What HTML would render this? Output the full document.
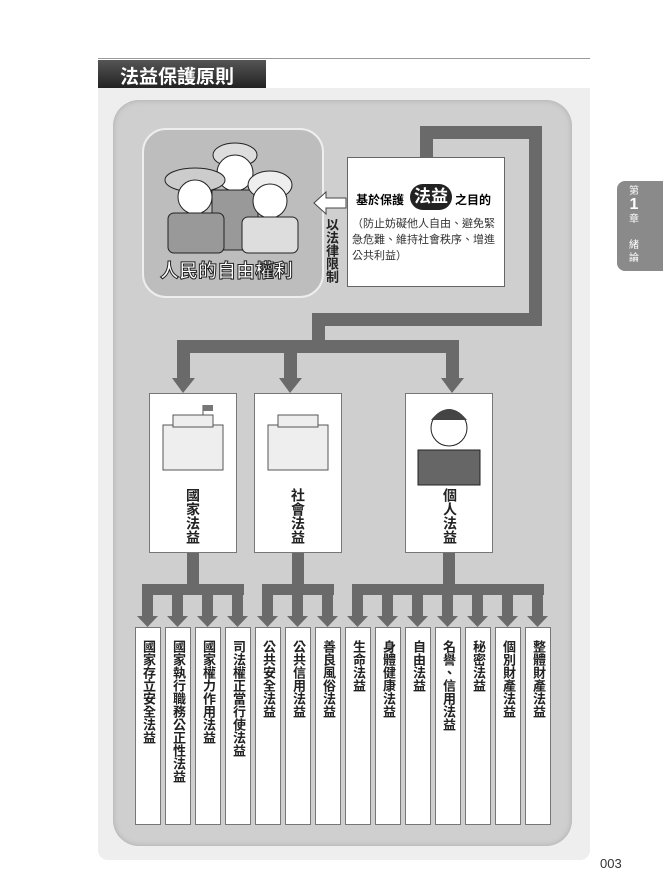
<!DOCTYPE html><html><head><meta charset="utf-8"><style>
body{margin:0;width:663px;height:896px;background:#fff;position:relative;overflow:hidden;font-family:"Liberation Sans","Noto Sans CJK TC",sans-serif}
.a{position:absolute}
.box{position:absolute;background:#fff;border:1px solid #777;box-sizing:border-box}
.leaf{position:absolute;top:627px;width:26px;height:198px;background:#fff;border:1px solid #777;box-sizing:border-box;writing-mode:vertical-rl;font-size:13px;font-weight:bold;color:#222;padding-top:12px;line-height:24px;text-align:left;letter-spacing:0}
.g{position:absolute;background:#6a6a6a}
.vt{writing-mode:vertical-rl;font-size:14px;font-weight:bold;color:#222}
</style></head><body>
<div class="a" style="left:98px;top:58px;width:492px;height:1px;background:#999"></div>
<div class="a" style="left:98px;top:88px;width:492px;height:772px;background:#eeeeee;border-radius:0 0 10px 10px"></div>
<div class="a" style="left:98px;top:60px;width:168px;height:28px;background:linear-gradient(#555,#222)"></div>
<div class="a" style="left:120px;top:62px;color:#fff;font-size:19px;font-weight:bold">法益保護原則</div>
<div class="a" style="left:113px;top:100px;width:459px;height:746px;background:#cfcfcf;border-radius:26px;box-shadow:inset 0 0 6px #aaa"></div>
<div class="a" style="left:142px;top:128px;width:178px;height:166px;background:#bdbdbd;border:2px solid #eee;border-radius:24px"></div>
<svg class="a" style="left:150px;top:135px" width="160" height="130">
<ellipse cx="85" cy="20" rx="22" ry="12" fill="#ddd" stroke="#222"/><circle cx="85" cy="38" r="18" fill="#fff" stroke="#222"/>
<rect x="62" y="55" width="46" height="60" fill="#999" stroke="#222"/>
<ellipse cx="45" cy="45" rx="30" ry="12" fill="#ccc" stroke="#222"/><circle cx="45" cy="62" r="17" fill="#fff" stroke="#222"/>
<rect x="18" y="78" width="56" height="40" rx="6" fill="#999" stroke="#222"/>
<ellipse cx="120" cy="50" rx="22" ry="14" fill="#eee" stroke="#222"/><circle cx="120" cy="66" r="17" fill="#fff" stroke="#222"/>
<rect x="92" y="82" width="56" height="36" rx="6" fill="#ddd" stroke="#222"/>
</svg>
<div class="a" style="left:160px;top:256px;font-size:19px;font-weight:bold;color:#fff;-webkit-text-stroke:1px #222">人民的自由權利</div>
<svg class="a" style="left:312px;top:190px" width="36" height="26"><polygon points="2,13 14,2 14,8 34,8 34,18 14,18 14,24" fill="#fff" stroke="#444"/></svg>
<div class="a vt" style="left:322px;top:218px;font-size:13px">以法律限制</div>
<div class="g" style="left:420px;top:126px;width:13px;height:35px"></div>
<div class="g" style="left:420px;top:126px;width:122px;height:13px"></div>
<div class="g" style="left:529px;top:126px;width:13px;height:200px"></div>
<div class="g" style="left:312px;top:313px;width:230px;height:13px"></div>
<div class="g" style="left:312px;top:313px;width:13px;height:38px"></div>
<div class="g" style="left:177px;top:340px;width:282px;height:13px"></div>
<div class="g" style="left:177px;top:340px;width:13px;height:40px"></div>
<div class="g" style="left:284px;top:340px;width:13px;height:40px"></div>
<div class="g" style="left:446px;top:340px;width:13px;height:40px"></div>
<svg class="a" style="left:0;top:0" width="663" height="896">
<g fill="#6a6a6a"><polygon points="172,378 195,378 183,393"/><polygon points="279,378 302,378 290,393"/><polygon points="441,378 464,378 452,393"/></g></svg>
<div class="box" style="left:347px;top:157px;width:158px;height:130px;border-color:#666"></div>
<div class="a" style="left:356px;top:191px;font-size:12px;font-weight:bold">基於保護</div>
<div class="a" style="left:410px;top:184px;width:42px;height:26px;background:#222;border-radius:13px;color:#fff;font-size:17px;font-weight:bold;text-align:center;line-height:26px">法益</div>
<div class="a" style="left:455px;top:191px;font-size:12px;font-weight:bold">之目的</div>
<div class="a" style="left:352px;top:216px;width:150px;font-size:11px;line-height:16px;color:#333">（防止妨礙他人自由、避免緊急危難、維持社會秩序、增進公共利益）</div>
<div class="box" style="left:149px;top:393px;width:88px;height:160px"></div>
<div class="box" style="left:254px;top:393px;width:88px;height:160px"></div>
<div class="box" style="left:405px;top:393px;width:88px;height:160px"></div>
<svg class="a" style="left:0;top:0" width="663" height="896">
<g fill="#eee" stroke="#555"><rect x="163" y="425" width="60" height="45"/><rect x="173" y="415" width="40" height="12"/><rect x="268" y="425" width="60" height="45"/><rect x="278" y="415" width="40" height="12"/></g>
<line x1="203" y1="415" x2="203" y2="405" stroke="#555"/><rect x="203" y="405" width="10" height="6" fill="#777"/>
<rect x="418" y="450" width="62" height="35" fill="#666" stroke="#222"/><circle cx="449" cy="428" r="18" fill="#fff" stroke="#222"/><path d="M431 420 Q449 398 467 420" fill="#444"/>
</svg>
<div class="a vt" style="left:183px;top:488px">國家法益</div>
<div class="a vt" style="left:288px;top:488px">社會法益</div>
<div class="a vt" style="left:440px;top:488px">個人法益</div>
<div class="g" style="left:187px;top:553px;width:12px;height:40px"></div>
<div class="g" style="left:292px;top:553px;width:12px;height:40px"></div>
<div class="g" style="left:443px;top:553px;width:12px;height:40px"></div>
<div class="g" style="left:142px;top:584px;width:102px;height:11px"></div>
<div class="g" style="left:262px;top:584px;width:72px;height:11px"></div>
<div class="g" style="left:352px;top:584px;width:192px;height:11px"></div>
<svg class="a" style="left:0;top:0" width="663" height="896"><g fill="#6a6a6a">
<rect x="142" y="590" width="11" height="28"/><polygon points="137,616 158,616 147.5,627"/>
<rect x="172" y="590" width="11" height="28"/><polygon points="167,616 188,616 177.5,627"/>
<rect x="202" y="590" width="11" height="28"/><polygon points="197,616 218,616 207.5,627"/>
<rect x="232" y="590" width="11" height="28"/><polygon points="227,616 248,616 237.5,627"/>
<rect x="262" y="590" width="11" height="28"/><polygon points="257,616 278,616 267.5,627"/>
<rect x="292" y="590" width="11" height="28"/><polygon points="287,616 308,616 297.5,627"/>
<rect x="322" y="590" width="11" height="28"/><polygon points="317,616 338,616 327.5,627"/>
<rect x="352" y="590" width="11" height="28"/><polygon points="347,616 368,616 357.5,627"/>
<rect x="382" y="590" width="11" height="28"/><polygon points="377,616 398,616 387.5,627"/>
<rect x="412" y="590" width="11" height="28"/><polygon points="407,616 428,616 417.5,627"/>
<rect x="442" y="590" width="11" height="28"/><polygon points="437,616 458,616 447.5,627"/>
<rect x="472" y="590" width="11" height="28"/><polygon points="467,616 488,616 477.5,627"/>
<rect x="502" y="590" width="11" height="28"/><polygon points="497,616 518,616 507.5,627"/>
<rect x="532" y="590" width="11" height="28"/><polygon points="527,616 548,616 537.5,627"/>
</g></svg>
<div class="leaf" style="left:135px">國家存立安全法益</div>
<div class="leaf" style="left:165px">國家執行職務公正性法益</div>
<div class="leaf" style="left:195px">國家權力作用法益</div>
<div class="leaf" style="left:225px">司法權正當行使法益</div>
<div class="leaf" style="left:255px">公共安全法益</div>
<div class="leaf" style="left:285px">公共信用法益</div>
<div class="leaf" style="left:315px">善良風俗法益</div>
<div class="leaf" style="left:345px">生命法益</div>
<div class="leaf" style="left:375px">身體健康法益</div>
<div class="leaf" style="left:405px">自由法益</div>
<div class="leaf" style="left:435px">名譽、信用法益</div>
<div class="leaf" style="left:465px">秘密法益</div>
<div class="leaf" style="left:495px">個別財產法益</div>
<div class="leaf" style="left:525px">整體財產法益</div>
<div class="a" style="left:617px;top:181px;width:46px;height:90px;background:#8a8a8a;border-radius:8px 0 0 8px"></div>
<div class="a" style="left:627px;top:185px;color:#fff;font-size:10px;text-align:center;width:14px;line-height:13px">第<br><b style="font-size:16px">1</b><br>章<br><br>緒<br>論</div>
<div class="a" style="left:600px;top:856px;font-size:13px;color:#333">003</div>
</body></html>
